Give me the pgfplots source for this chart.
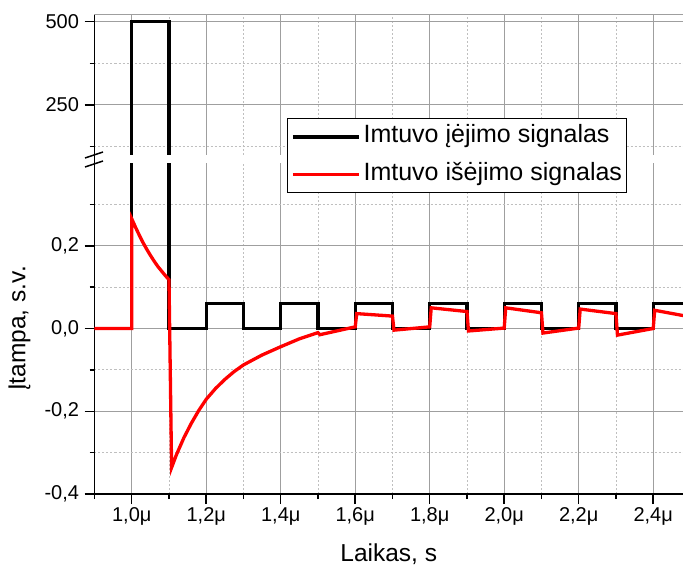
\documentclass[border=0pt]{standalone}
\usepackage{fontspec}
\setmainfont{Liberation Sans}
\usepackage{pgfplots}
\usepackage{pgfplotstable}
\pgfplotsset{compat=1.18}

% input signal (black): spike to 500 then 0.06 square wave
\pgfplotstableread{
t v
0.9 0
1.0 0
1.0 500
1.1 500
1.1 0
1.2 0
1.2 0.06
1.3 0.06
1.3 0
1.4 0
1.4 0.06
1.5 0.06
1.5 0
1.6 0
1.6 0.06
1.7 0.06
1.7 0
1.8 0
1.8 0.06
1.9 0.06
1.9 0
2.0 0
2.0 0.06
2.1 0.06
2.1 0
2.2 0
2.2 0.06
2.3 0.06
2.3 0
2.4 0
2.4 0.06
2.5 0.06
}\inputsig

% output signal (red)
\pgfplotstableread{
t v
0.9 0
1.0 0
1.0 0.265
1.01 0.245
1.02 0.226
1.03 0.208
1.04 0.192
1.05 0.177
1.06 0.163
1.07 0.150
1.08 0.139
1.09 0.128
1.10 0.118
1.107 -0.336
1.12 -0.305
1.14 -0.264
1.16 -0.229
1.18 -0.198
1.20 -0.171
1.225 -0.145
1.25 -0.123
1.275 -0.104
1.30 -0.088
1.35 -0.064
1.40 -0.044
1.45 -0.025
1.50 -0.010
1.505 -0.015
1.60 0.004
1.604 0.036
1.70 0.030
1.704 -0.004
1.80 0.004
1.804 0.050
1.90 0.041
1.904 -0.006
2.00 0.001
2.004 0.050
2.10 0.038
2.104 -0.011
2.20 0.001
2.204 0.047
2.30 0.036
2.304 -0.016
2.40 0.000
2.404 0.044
2.50 0.028
}\outputsig

\pgfplotsset{
  brk/.style={
    scale only axis, width=588.5pt,
    xmin=0.9, xmax=2.48,
    xtick={1,1.2,1.4,1.6,1.8,2,2.2,2.4},
    minor xtick={0.9,1.1,1.3,1.5,1.7,1.9,2.1,2.3},
    tick align=outside,
    major tick length=10pt, minor tick length=5pt,
    every tick/.style={black, line width=1.5pt},
    grid=both,
    major grid style={gray!75, line width=1pt},
    minor grid style={gray!50, line width=0.9pt, dash pattern=on 2pt off 2pt},
    axis line style={black, line width=1.5pt},
    tick label style={font=\fontsize{20}{23}\selectfont},
    yticklabel style={xshift=-2pt},
    label style={font=\fontsize{24.5}{29}\selectfont},
  },
}

\begin{document}
\begin{tikzpicture}[x=1pt,y=1pt]
\useasboundingbox (0,0) rectangle (683,566);

% upper part, 100..520
\begin{axis}[brk,
  at={(94.5pt,411pt)}, anchor=south west, height=140pt,
  axis x line*=top, axis y line*=left,
  x axis line style={gray!75, line width=1pt},
  xtick style={draw=none}, xticklabels={},
  ymin=100, ymax=520,
  ytick={250,500}, yticklabels={250,500},
  minor ytick={125,375},
]
\addplot[black, line width=3.4pt] table[x=t,y=v] {\inputsig};
\end{axis}

% lower part, -0.4..0.4
\begin{axis}[brk,
  at={(94.5pt,72pt)}, anchor=south west, height=331pt,
  axis x line*=bottom, axis y line*=left,
  ymin=-0.4, ymax=0.4,
  ytick={-0.4,-0.2,0,0.2}, yticklabels={{-0,4},{-0,2},{0,0},{0,2}},
  minor ytick={-0.3,-0.1,0.1,0.3},
  xticklabels={{1,0μ},{1,2μ},{1,4μ},{1,6μ},{1,8μ},{2,0μ},{2,2μ},{2,4μ}},
  xlabel={Laikas, s},
  xlabel style={at={(axis description cs:0.5,0)}, anchor=base, yshift=-67pt},
  ylabel={Įtampa, s.v.},
  ylabel style={at={(axis description cs:0,0.5)}, anchor=center, yshift=75pt},
  legend cell align=left,
  legend style={at={(axis description cs:0.3266,1.136)}, anchor=north west,
    draw=black, line width=1pt, fill=white,
    font=\fontsize{25}{29}\selectfont,
    nodes={inner sep=0pt, text height=18pt, text depth=6pt},
    inner xsep=4pt, inner ysep=6.5pt, row sep=13.5pt, column sep=3pt},
  legend image code/.code={\draw[#1] (0pt,0pt) -- (66pt,0pt);},
]
% the 500 spike leaves this part through its top edge
\addplot[black, line width=3.4pt, y filter/.expression={y>1 ? 1 : y}]
  table[x=t,y=v] {\inputsig};
\addlegendentry{Imtuvo įėjimo signalas}
\addplot[red, line width=3.3pt] table[x=t,y=v] {\outputsig};
\addlegendentry{Imtuvo išėjimo signalas}
\end{axis}

% axis break marks
\draw[black, line width=1.5pt] (94.5,411) -- (94.5,403);
\draw[black, line width=1.5pt] (85,408) -- (103,414);
\draw[black, line width=1.5pt] (85,399) -- (103,405);
\end{tikzpicture}
\end{document}
